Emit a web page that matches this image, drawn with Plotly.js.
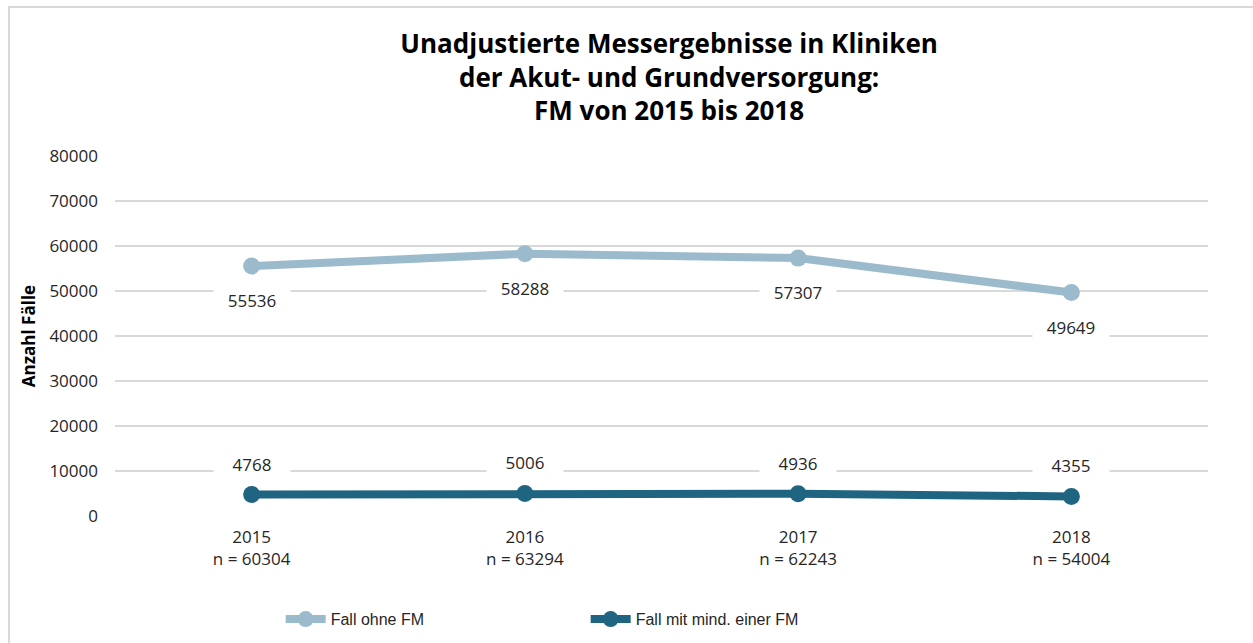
<!DOCTYPE html>
<html>
<head>
<meta charset="utf-8">
<script src="https://cdn.plot.ly/plotly-3.0.1.min.js"></script>
<style>
html,body{margin:0;padding:0;background:#fff;}
#wrap{position:relative;width:1253px;height:643px;overflow:hidden;}
#chart{position:absolute;left:0;top:0;width:1253px;height:643px;}
#frame{position:absolute;left:8px;top:6px;width:1300px;height:700px;border-left:2px solid #d9d9d9;border-top:2px solid #d9d9d9;pointer-events:none;}
</style>
</head>
<body>
<div id="wrap"><div id="chart"></div><div id="frame"></div></div>
<script>
const years = ["2015", "2016", "2017", "2018"];
const nTotal = [60304, 63294, 62243, 54004];
const ohneFM = [55536, 58288, 57307, 49649];
const mitFM = [4768, 5006, 4936, 4355];
const seriesNames = ["Fall ohne FM", "Fall mit mind. einer FM"];
const yTicks = [0, 10000, 20000, 30000, 40000, 50000, 60000, 70000, 80000];

const tickText = years.map((y, i) => y + "<br>n = " + nTotal[i]);

const traces = [
  {x: years, y: ohneFM, name: seriesNames[0], type: "scatter", mode: "lines+markers",
   line: {color: "#9bbbcc", width: 8}, marker: {color: "#9bbbcc", size: 17}},
  {x: years, y: mitFM, name: seriesNames[1], type: "scatter", mode: "lines+markers",
   line: {color: "#1f6481", width: 8}, marker: {color: "#1f6481", size: 17}}
];

const labelFont = {family: "Open Sans, sans-serif", size: 17, color: "#262626"};
const annotations = [];
years.forEach((y, i) => {
  annotations.push({x: i, y: ohneFM[i], xref: "x", yref: "y", text: String(ohneFM[i]), showarrow: false,
    yshift: -34, bgcolor: "#ffffff", width: 74, height: 24, font: labelFont});
  annotations.push({x: i, y: mitFM[i], xref: "x", yref: "y", text: String(mitFM[i]), showarrow: false,
    yshift: 31, bgcolor: "#ffffff", width: 74, height: 24, font: labelFont});
});

const layout = {
  width: 1253, height: 643,
  margin: {l: 115, r: 45, t: 156, b: 127},
  paper_bgcolor: "#ffffff", plot_bgcolor: "#ffffff",
  title: {text: "<b>Unadjustierte Messergebnisse in Kliniken<br>der Akut- und Grundversorgung:<br>FM von 2015 bis 2018</b>",
    font: {family: "Open Sans, sans-serif", size: 26, color: "#000000"},
    x: 0.534, xref: "container", xanchor: "center", y: 0.918, yref: "container", yanchor: "top"},
  xaxis: {type: "category", range: [-0.5, 3.5], tickmode: "array", tickvals: years, ticktext: tickText,
    showgrid: false, zeroline: false, showline: false, ticks: "", ticklabelstandoff: 9,
    tickfont: {family: "Open Sans, sans-serif", size: 17, color: "#262626"}, fixedrange: true},
  yaxis: {range: [0, 80000], tickmode: "array", tickvals: yTicks, ticktext: yTicks.map(String),
    showgrid: true, gridcolor: "#d9d9d9", gridwidth: 2, zeroline: false, showline: false, ticks: "",
    ticklabelstandoff: 16,
    tickfont: {family: "Open Sans, sans-serif", size: 17, color: "#262626"},
    title: {text: "<b>Anzahl Fälle</b>", font: {family: "Open Sans, sans-serif", size: 17, color: "#000000"}, standoff: 9},
    fixedrange: true},
  showlegend: true,
  legend: {orientation: "h", x: 0.224, xref: "container", y: 0.037, yref: "container", yanchor: "middle", xanchor: "left",
    entrywidth: 250, entrywidthmode: "pixels",
    font: {family: "Liberation Sans, Arial, sans-serif", size: 16, color: "#262626"},
    itemwidth: 40},
  annotations: annotations
};

Plotly.newPlot("chart", traces, layout, {displayModeBar: false, staticPlot: true});
</script>
</body>
</html>
